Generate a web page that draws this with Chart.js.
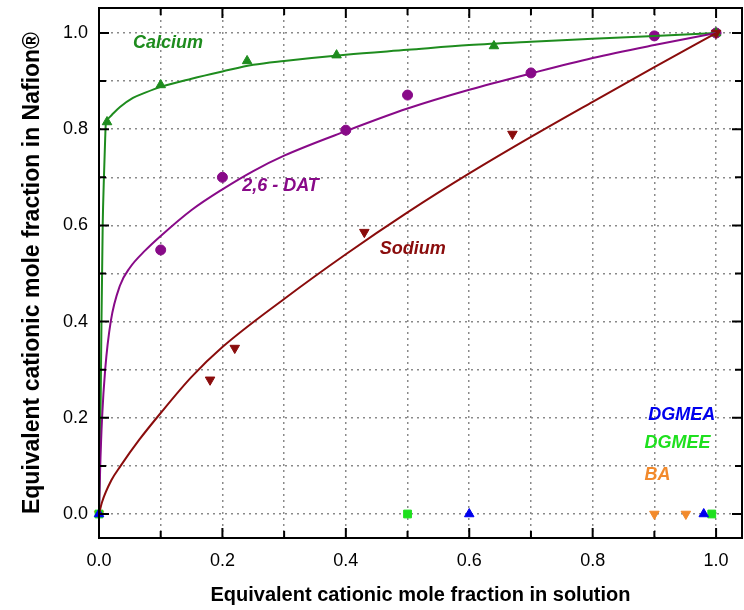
<!DOCTYPE html>
<html><head><meta charset="utf-8">
<script src="https://cdn.jsdelivr.net/npm/chart.js@4/dist/chart.umd.min.js"></script>
<style>html,body{margin:0;padding:0;background:#fff}#wrap{width:744px;height:610px}</style>
</head><body><div id="wrap"><canvas id="c" width="744" height="610"></canvas></div>
<script>
// ---- data ----
const calciumPtsX = [0.013, 0.10, 0.24, 0.385, 0.64, 1.0];
const calciumPtsY = [0.815, 0.892, 0.942, 0.954, 0.973, 1.0];
const datPtsX = [0.10, 0.20, 0.40, 0.50, 0.70, 0.90, 1.0];
const datPtsY = [0.549, 0.700, 0.798, 0.871, 0.917, 0.994, 1.0];
const sodiumPtsX = [0.18, 0.22, 0.43, 0.67, 1.0];
const sodiumPtsY = [0.279, 0.345, 0.586, 0.790, 1.0];
const dgmeaX = [0, 0.60, 0.98];
const dgmeaY = [0, 0, 0];
const dgmeeX = [0, 0.50, 0.993];
const dgmeeY = [0, 0, 0];
const baX = [0, 0.90, 0.951];
const baY = [0, 0, 0];

const calciumFitX = [0, 0.002, 0.004, 0.006, 0.008, 0.010, 0.011, 0.015, 0.021, 0.034, 0.055, 0.075, 0.10, 0.15, 0.20, 0.25, 0.30, 0.40, 0.50, 0.60, 0.70, 0.80, 0.90, 1.0];
const calciumFitY = [0, 0.15, 0.40, 0.60, 0.70, 0.78, 0.81, 0.822, 0.830, 0.846, 0.865, 0.876, 0.888, 0.905, 0.920, 0.934, 0.942, 0.955, 0.965, 0.975, 0.982, 0.988, 0.994, 1.0];
const datFitX = [0, 0.002, 0.005, 0.010, 0.019, 0.034, 0.05, 0.075, 0.10, 0.15, 0.20, 0.25, 0.30, 0.40, 0.50, 0.60, 0.70, 0.80, 0.90, 1.0];
const datFitY = [0, 0.10, 0.20, 0.30, 0.40, 0.475, 0.512, 0.548, 0.578, 0.632, 0.675, 0.713, 0.745, 0.796, 0.843, 0.882, 0.916, 0.948, 0.975, 1.0];
const sodiumFitX = [0, 0.005, 0.02, 0.035, 0.065, 0.10, 0.15, 0.20, 0.30, 0.40, 0.50, 0.60, 0.70, 0.80, 0.90, 1.0];
const sodiumFitY = [0, 0.025, 0.07, 0.10, 0.154, 0.21, 0.285, 0.347, 0.447, 0.540, 0.627, 0.708, 0.784, 0.857, 0.929, 1.0];

const xTickValues = [0, 0.1, 0.2, 0.3, 0.4, 0.5, 0.6, 0.7, 0.8, 0.9, 1.0];
const xTickLabels = ['0.0', '', '0.2', '', '0.4', '', '0.6', '', '0.8', '', '1.0'];
const yTickValues = [0, 0.1, 0.2, 0.3, 0.4, 0.5, 0.6, 0.7, 0.8, 0.9, 1.0];
const yTickLabels = ['0.0', '', '0.2', '', '0.4', '', '0.6', '', '0.8', '', '1.0'];

const seriesNames = ['Calcium', '2,6 - DAT', 'Sodium', 'DGMEA', 'DGMEE', 'BA'];
const labelX = [0.055, 0.232, 0.455, 0.890, 0.884, 0.884];
const labelY = [0.979, 0.682, 0.551, 0.206, 0.148, 0.081];

const xTitle = 'Equivalent cationic mole fraction in solution';
const yTitle = 'Equivalent cationic mole fraction in Nafion®';

// ---- styles ----
const C_CA = '#1e8c1e', C_DAT = '#880a88', C_NA = '#8a0c0c', C_DGMEA = '#0000ee', C_DGMEE = '#1ee01e', C_BA = '#f28a2c';
const labelColors = [C_CA, C_DAT, C_NA, C_DGMEA, C_DGMEE, C_BA];

const pts = (xs, ys) => xs.map((x, i) => ({x, y: ys[i]}));

function curve(xs, ys, color) {
  return {data: pts(xs, ys), showLine: true, borderColor: color, borderWidth: 2, pointRadius: 0,
    cubicInterpolationMode: 'monotone', fill: false};
}
function marks(xs, ys, color, style, rot, r) {
  return {data: pts(xs, ys), showLine: false, backgroundColor: color, borderColor: color, borderWidth: 1,
    pointStyle: style, rotation: rot, pointRadius: r, pointHoverRadius: r, clip: false};
}

const framePlugin = {
  id: 'frame',
  afterDatasetsDraw(chart) {
    const {ctx, chartArea: a, scales: {x, y}} = chart;
    ctx.save();
    ctx.strokeStyle = '#000'; ctx.lineWidth = 2;
    xTickValues.forEach((v, i) => {
      const p = x.getPixelForValue(v), len = xTickLabels[i] ? 10 : 7;
      ctx.beginPath();
      ctx.moveTo(p, a.bottom); ctx.lineTo(p, a.bottom - len);
      ctx.moveTo(p, a.top); ctx.lineTo(p, a.top + len);
      ctx.stroke();
    });
    yTickValues.forEach((v, i) => {
      const p = y.getPixelForValue(v), len = yTickLabels[i] ? 10 : 7;
      ctx.beginPath();
      ctx.moveTo(a.left, p); ctx.lineTo(a.left + len, p);
      ctx.moveTo(a.right, p); ctx.lineTo(a.right - len, p);
      ctx.stroke();
    });
    ctx.strokeRect(a.left, a.top, a.right - a.left, a.bottom - a.top);
    ctx.font = 'italic bold 18px "Liberation Sans", Arial, sans-serif';
    ctx.textAlign = 'left'; ctx.textBaseline = 'middle';
    seriesNames.forEach((t, i) => {
      ctx.fillStyle = labelColors[i];
      ctx.fillText(t, x.getPixelForValue(labelX[i]), y.getPixelForValue(labelY[i]));
    });
    ctx.restore();
  }
};

const noPad = s => { s.paddingTop = 0; s.paddingBottom = 0; s.paddingLeft = 0; s.paddingRight = 0; };

new Chart(document.getElementById('c'), {
  type: 'scatter',
  data: {datasets: [
    curve(sodiumFitX, sodiumFitY, C_NA),
    curve(datFitX, datFitY, C_DAT),
    curve(calciumFitX, calciumFitY, C_CA),
    marks(dgmeaX, dgmeaY, C_DGMEA, 'triangle', 0, 5.5),
    marks(dgmeeX, dgmeeY, C_DGMEE, 'rect', 0, 5.5),
    marks(baX, baY, C_BA, 'triangle', 180, 5.5),
    marks(sodiumPtsX, sodiumPtsY, C_NA, 'triangle', 180, 5.5),
    marks(calciumPtsX, calciumPtsY, C_CA, 'triangle', 0, 5.5),
    marks(datPtsX, datPtsY, C_DAT, 'circle', 0, 5)
  ]},
  options: {
    responsive: false, animation: false,
    layout: {padding: {top: 8, right: 2, left: 0, bottom: 0}, autoPadding: false},
    plugins: {legend: {display: false}, tooltip: {enabled: false}},
    scales: {
      x: {
        type: 'linear', min: 0, max: 1.042,
        afterBuildTicks: s => { s.ticks = xTickValues.map(v => ({value: v})); },
        afterFit: s => { s.height = 72; noPad(s); },
        grid: {color: '#8a8a8a', lineWidth: 1.5, drawTicks: false},
        border: {display: false, dash: [2, 4]},
        ticks: {padding: 12, color: '#000', font: {family: '"Liberation Sans", Arial, sans-serif', size: 18},
          maxRotation: 0, autoSkip: false,
          callback: (v, i) => xTickLabels[i]},
        title: {display: true, text: xTitle, color: '#000', padding: {top: 0, bottom: 3},
          font: {family: '"Liberation Sans", Arial, sans-serif', size: 20, weight: 'bold'}}
      },
      y: {
        type: 'linear', min: -0.0499, max: 1.052,
        afterBuildTicks: s => { s.ticks = yTickValues.map(v => ({value: v})); },
        afterFit: s => { s.width = 99; noPad(s); },
        grid: {color: '#8a8a8a', lineWidth: 1.5, drawTicks: false},
        border: {display: false, dash: [2, 4]},
        ticks: {padding: 11, color: '#000', font: {family: '"Liberation Sans", Arial, sans-serif', size: 18},
          autoSkip: false, callback: (v, i) => yTickLabels[i]},
        title: {display: true, text: yTitle, color: '#000', padding: {top: 19, bottom: 0},
          font: {family: '"Liberation Sans", Arial, sans-serif', size: 23, weight: 'bold'}}
      }
    }
  },
  plugins: [framePlugin]
});
</script></body></html>
